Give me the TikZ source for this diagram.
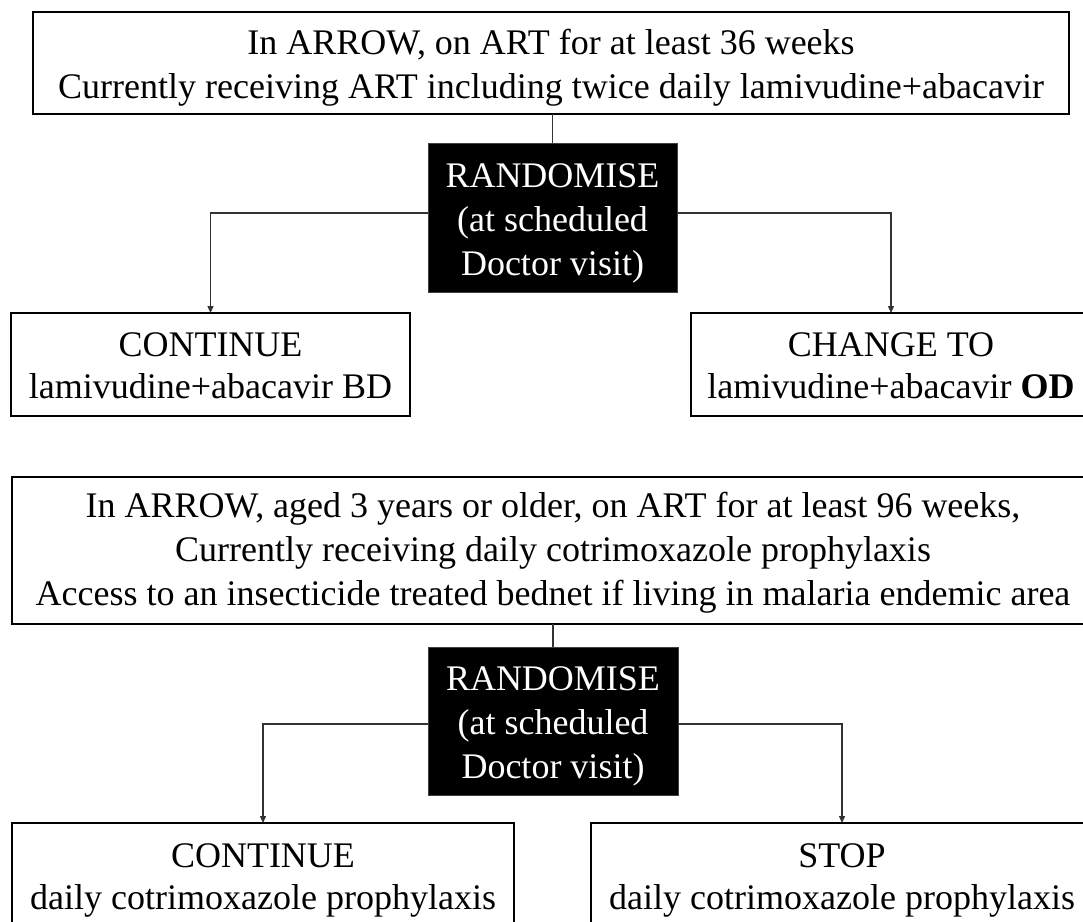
\documentclass[tikz,border=0pt]{standalone}
\usepackage{fontspec}
\setmainfont{Liberation Serif}
\usetikzlibrary{arrows.meta}
\begin{document}
\begin{tikzpicture}[x=1pt,y=-1pt,
  box/.style={draw=black,line width=1.8pt,fill=white,inner sep=0pt,outer sep=0pt,anchor=north west},
  rbox/.style={draw=black!75,line width=1pt,fill=black,inner sep=0pt,outer sep=0pt,anchor=north west},
  txt/.style={font=\fontsize{36}{44}\selectfont,anchor=base,inner sep=0pt,text=black},
  wtxt/.style={txt,text=white},
  conn/.style={line width=1.3pt,draw=black!80},
  arr/.style={conn,-{Triangle[length=7pt,width=6pt]}}]
\useasboundingbox (0,0) rectangle (1083,921);
\clip (0,0) rectangle (1083,921);
\fill[white] (0,0) rectangle (1083,921);
% ---------- first trial ----------
\node[box,minimum width=1036pt,minimum height=102pt] (A) at (33,12) {};
\node[txt] (a1) at (551,54) {In ARROW, on ART for at least 36 weeks};
\node[txt] (a2) at (551,98) {Currently receiving ART including twice daily lamivudine+abacavir};
\node[rbox,minimum width=249pt,minimum height=149pt] (R1) at (428,143) {};
\node[wtxt] (r11) at (552.5,187) {RANDOMISE};
\node[wtxt] (r12) at (552.5,231) {(at scheduled};
\node[wtxt] (r13) at (552.5,275) {Doctor visit)};
\node[box,minimum width=399pt,minimum height=103pt] (L1) at (11,313) {};
\node[txt] (l11) at (210.5,356) {CONTINUE};
\node[txt] (l12) at (210.5,398) {lamivudine+abacavir BD};
\node[box,minimum width=400pt,minimum height=103pt] (C1) at (691,313) {};
\node[txt] (c11) at (891,356) {CHANGE TO};
\node[txt] (c12) at (891,398) {lamivudine+abacavir \textbf{OD}};
\draw[conn] (R1.north |- A.south) -- (R1.north);
\draw[arr] ([yshift=4.5pt]R1.west) -| (L1.north);
\draw[arr] ([yshift=4.5pt]R1.east) -| (C1.north);
% ---------- second trial ----------
\node[box,minimum width=1082pt,minimum height=147pt] (B) at (12,477) {};
\node[txt] (b1) at (553,517) {In ARROW, aged 3 years or older, on ART for at least 96 weeks,};
\node[txt] (b2) at (553,561) {Currently receiving daily cotrimoxazole prophylaxis};
\node[txt] (b3) at (553,605) {Access to an insecticide treated bednet if living in malaria endemic area};
\node[rbox,minimum width=250pt,minimum height=148pt] (R2) at (428,647) {};
\node[wtxt] (r21) at (553,690) {RANDOMISE};
\node[wtxt] (r22) at (553,734) {(at scheduled};
\node[wtxt] (r23) at (553,778) {Doctor visit)};
\node[box,minimum width=502pt,minimum height=150pt] (L2) at (12,823) {};
\node[txt] (l21) at (263,867) {CONTINUE};
\node[txt] (l22) at (263,909) {daily cotrimoxazole prophylaxis};
\node[box,minimum width=502pt,minimum height=150pt] (S2) at (591,823) {};
\node[txt] (s21) at (842,867) {STOP};
\node[txt] (s22) at (842,909) {daily cotrimoxazole prophylaxis};
\draw[conn] (R2.north |- B.south) -- (R2.north);
\draw[arr] ([yshift=-3pt]R2.west) -| (L2.north);
\draw[arr] ([yshift=-3pt]R2.east) -| (S2.north);
\end{tikzpicture}
\end{document}
